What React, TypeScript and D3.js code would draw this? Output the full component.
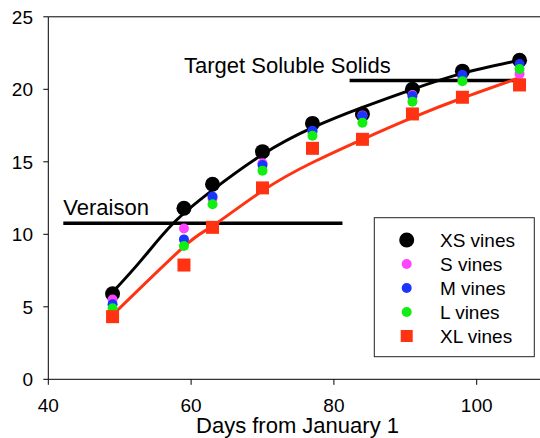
import React from "react";
import * as d3 from "d3";

// sampling days (days from January 1)
const days = [49, 59, 63, 70, 77, 84, 91, 98, 106];

// soluble solids by vine size
const xsVines = [5.9, 11.8, 13.45, 15.7, 17.65, 18.3, 20.0, 21.25, 22.0];
const sVines = [5.5, 10.4, 12.45, 14.9, 17.05, 18.2, 19.6, 20.8, 21.05];
const mVines = [5.17, 9.65, 12.6, 14.78, 17.15, 18.16, 19.54, 21.0, 21.75];
const lVines = [4.9, 9.19, 12.07, 14.39, 16.8, 17.7, 19.15, 20.55, 21.4];
const xlVines = [4.32, 7.88, 10.48, 13.2, 15.93, 16.55, 18.3, 19.45, 20.3];

// fitted curves
const xsFitDays = [49, 53, 57.5, 63, 70, 77, 84, 91, 98, 106];
const xsFitValues = [6.0, 8.2, 10.76, 13.05, 15.5, 17.35, 18.75, 20.0, 21.1, 22.0];
const xlFitDays = [49, 59, 63, 70, 77, 84, 91, 98, 106];
const xlFitValues = [4.43, 9.15, 10.57, 13.0, 14.95, 16.55, 18.05, 19.4, 20.8];

// reference lines
const veraison = { value: 10.76, from: 42.1, to: 81.2 };
const targetSolids = { value: 20.6, from: 82.2, to: 106.8 };

const xTicks = [40, 60, 80, 100];
const yTicks = [0, 5, 10, 15, 20, 25];

const legendNames = ["XS vines", "S vines", "M vines", "L vines", "XL vines"];

const FONT = "'Liberation Sans', Arial, sans-serif";

const width = 540;
const height = 438;

export default function App() {
  const x = d3.scaleLinear().domain([40, 110]).range([48.3, 548.1]);
  const y = d3.scaleLinear().domain([0, 25]).range([379.3, 16.8]);

  const line = d3
    .line<[number, number]>()
    .x((d) => x(d[0]))
    .y((d) => y(d[1]))
    .curve(d3.curveNatural);

  const xsFit = xsFitDays.map((d, i) => [d, xsFitValues[i]] as [number, number]);
  const xlFit = xlFitDays.map((d, i) => [d, xlFitValues[i]] as [number, number]);

  const circleSeries = [
    { values: xsVines, color: "#000000", r: 7.5 },
    { values: sVines, color: "#ff44ff", r: 5 },
    { values: mVines, color: "#1a35ff", r: 5 },
    { values: lVines, color: "#11ee11", r: 5 },
  ];
  const red = "#ff3311";
  const sq = 13;

  const legendX = 406.7;
  const legendRows = [240, 264, 288, 312, 336];

  return (
    <svg
      width={width}
      height={height}
      style={{ position: "absolute", left: 0, top: 0, background: "#fff" }}
      fontFamily={FONT}
    >
      {/* frame */}
      <line x1={x(40)} x2={width} y1={y(25)} y2={y(25)} stroke="#000" strokeWidth={1} />
      <line x1={x(40)} x2={width} y1={y(0)} y2={y(0)} stroke="#000" strokeWidth={1} />
      <line x1={x(40)} x2={x(40)} y1={y(0)} y2={y(25)} stroke="#000" strokeWidth={1} />

      {/* y axis */}
      {yTicks.map((t) => (
        <g key={"y" + t}>
          <line x1={x(40) - 5} x2={x(40)} y1={y(t)} y2={y(t)} stroke="#000" />
          <text x={33} y={y(t) + 7} textAnchor="end" fontSize={19}>
            {t}
          </text>
        </g>
      ))}

      {/* x axis */}
      {xTicks.map((t) => (
        <g key={"x" + t}>
          <line x1={x(t)} x2={x(t)} y1={y(0)} y2={y(0) + 5.5} stroke="#000" />
          <text x={x(t)} y={411.7} textAnchor="middle" fontSize={19}>
            {t}
          </text>
        </g>
      ))}
      <text x={297.5} y={433} textAnchor="middle" fontSize={22}>
        Days from January 1
      </text>

      {/* reference lines */}
      <line
        x1={x(veraison.from)}
        x2={x(veraison.to)}
        y1={y(veraison.value)}
        y2={y(veraison.value)}
        stroke="#000"
        strokeWidth={3.5}
      />
      <text x={63.3} y={215} fontSize={22}>
        Veraison
      </text>
      <line
        x1={x(targetSolids.from)}
        x2={x(targetSolids.to)}
        y1={y(targetSolids.value)}
        y2={y(targetSolids.value)}
        stroke="#000"
        strokeWidth={3.5}
      />
      <text x={184} y={72.7} fontSize={22}>
        Target Soluble Solids
      </text>

      {/* fitted curves */}
      <path d={line(xsFit) || ""} fill="none" stroke="#000" strokeWidth={3} />
      <path d={line(xlFit) || ""} fill="none" stroke={red} strokeWidth={3} />

      {/* points */}
      {circleSeries.map((s, si) => (
        <g key={"s" + si}>
          {days.map((d, i) => (
            <circle key={i} cx={x(d)} cy={y(s.values[i])} r={s.r} fill={s.color} />
          ))}
        </g>
      ))}
      {days.map((d, i) => (
        <rect
          key={"xl" + i}
          x={x(d) - sq / 2}
          y={y(xlVines[i]) - sq / 2}
          width={sq}
          height={sq}
          fill={red}
        />
      ))}

      {/* legend */}
      <rect x={374.3} y={217.7} width={160} height={139} fill="#fff" stroke="#222" strokeWidth={1} />
      {legendNames.map((name, i) => (
        <g key={name}>
          {i < 4 ? (
            <circle
              cx={legendX}
              cy={legendRows[i]}
              r={circleSeries[i].r}
              fill={circleSeries[i].color}
            />
          ) : (
            <rect
              x={legendX - 6}
              y={legendRows[i] - 6}
              width={12}
              height={12}
              fill={red}
            />
          )}
          <text x={440} y={legendRows[i] + 6.7} fontSize={19}>
            {name}
          </text>
        </g>
      ))}
    </svg>
  );
}
